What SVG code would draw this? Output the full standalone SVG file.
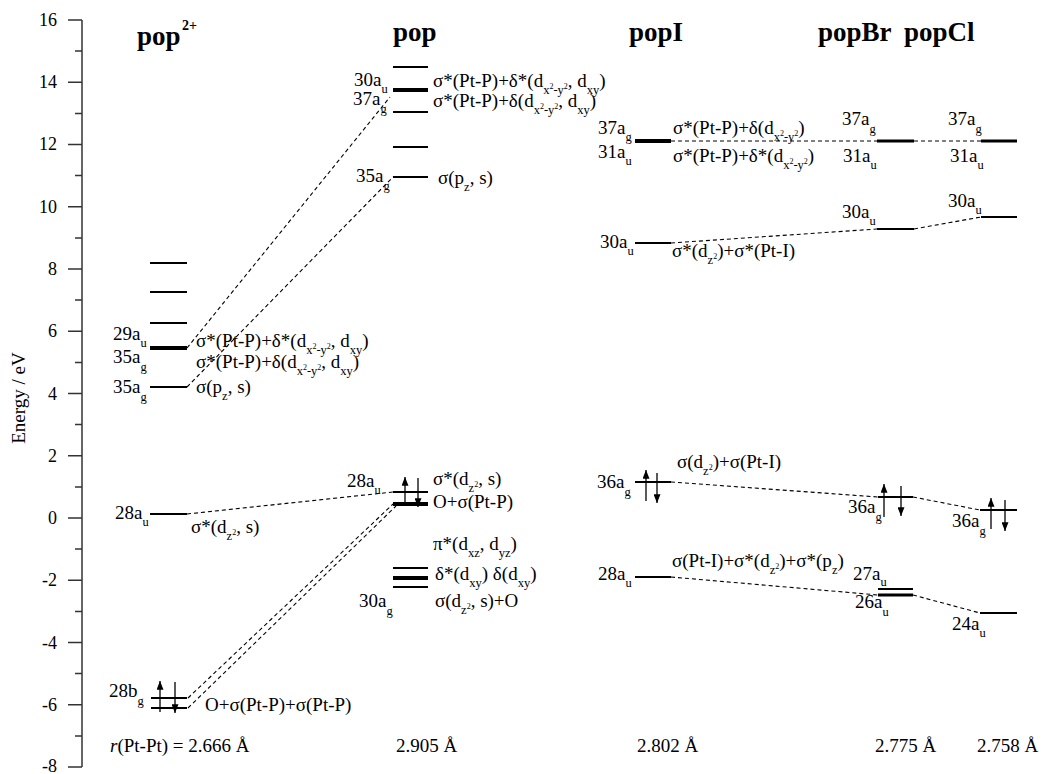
<svg xmlns="http://www.w3.org/2000/svg" width="1043" height="774" viewBox="0 0 1043 774" font-family="'Liberation Serif', 'Times New Roman', serif">
  <style>
    text { font-family: "Liberation Serif", "Times New Roman", serif; font-size: 19px; fill: #000; }
    .s { font-size: 12.5px; }
    .ss { font-size: 8px; }
    .hd { font-size: 27px; font-weight: bold; }
    .sup { font-size: 14px; font-weight: bold; }
    .tick { font-size: 18px; text-anchor: end; }
    .lv { stroke: #000; stroke-width: 2; }
    .lv3 { stroke: #000; stroke-width: 3; }
    .lvk { stroke: #000; stroke-width: 4; }
    .ax { stroke: #333; stroke-width: 1.5; fill: none; }
    .dash { stroke: #000; stroke-width: 1.1; stroke-dasharray: 4 3; fill: none; }
    .el { stroke: #000; stroke-width: 1.3; marker-end: url(#ah); }
  </style>
  <defs>
    <marker id="ah" viewBox="0 0 10 8" refX="10" refY="4" markerWidth="10" markerHeight="7" markerUnits="userSpaceOnUse" orient="auto">
      <path d="M0,0 L10,4 L0,8 z" fill="#000"/>
    </marker>
  </defs>
  <rect width="1043" height="774" fill="#fff"/>

  <!-- energy axis -->
  <g id="axis">
    <path class="ax" d="M82,20 V767"/>
    <path class="ax" d="M68,20H82 M75,51.1H82 M68,82.3H82 M75,113.4H82 M68,144.5H82 M75,175.6H82 M68,206.8H82 M75,237.9H82 M68,269H82 M75,300.1H82 M68,331.3H82 M75,362.4H82 M68,393.5H82 M75,424.6H82 M68,455.8H82 M75,486.9H82 M68,518H82 M75,549.1H82 M68,580.3H82 M75,611.4H82 M68,642.5H82 M75,673.6H82 M68,704.8H82 M75,735.9H82 M68,767H82"/>
    <text class="tick" x="57" y="26">16</text>
    <text class="tick" x="57" y="88">14</text>
    <text class="tick" x="57" y="150">12</text>
    <text class="tick" x="57" y="213">10</text>
    <text class="tick" x="57" y="275">8</text>
    <text class="tick" x="57" y="337">6</text>
    <text class="tick" x="57" y="400">4</text>
    <text class="tick" x="57" y="462">2</text>
    <text class="tick" x="57" y="524">0</text>
    <text class="tick" x="57" y="586">-2</text>
    <text class="tick" x="57" y="649">-4</text>
    <text class="tick" x="57" y="711">-6</text>
    <text class="tick" x="57" y="772">-8</text>
    <text x="25" y="398" font-size="16.5" text-anchor="middle" transform="rotate(-90 25 398)">Energy / eV</text>
  </g>

  <!-- column headings -->
  <g id="headings">
    <text class="hd" x="137" y="45">pop</text>
    <text class="sup" x="182" y="30">2+</text>
    <text class="hd" x="393" y="41">pop</text>
    <text class="hd" x="629" y="41">popI</text>
    <text class="hd" x="818" y="41">popBr</text>
    <text class="hd" x="904" y="41">popCl</text>
  </g>

  <!-- correlation lines -->
  <g id="connectors">
    <path class="dash" d="M187,348 L390,97"/>
    <path class="dash" d="M187,387 L393,177"/>
    <path class="dash" d="M187,514 L393,492"/>
    <path class="dash" d="M188,698 L393,504"/>
    <path class="dash" d="M188,708 L396,506"/>
    <path class="dash" d="M671,141 L877,141 M914,141 L981,141"/>
    <path class="dash" d="M671,243 L877,229 M914,229 L981,217"/>
    <path class="dash" d="M671,482 L878,497 M913,497 L980,510"/>
    <path class="dash" d="M671,577 L878,595 M913,595 L980,613"/>
  </g>

  <!-- pop2+ levels -->
  <g id="pop2-virtual">
    <line class="lv" x1="150" y1="263" x2="187" y2="263"/>
    <line class="lv" x1="150" y1="292" x2="187" y2="292"/>
    <line class="lv" x1="150" y1="323" x2="187" y2="323"/>
  </g>
  <g id="pop2-29au">
    <line class="lvk" x1="150" y1="348" x2="187" y2="348"/>
    <text x="113" y="340">29a<tspan class="s" dy="7">u</tspan></text>
    <text x="196" y="347">σ*(Pt-P)+δ*(d<tspan class="s" dy="7">x</tspan><tspan class="ss" dy="-5">2</tspan><tspan class="s" dy="5">-y</tspan><tspan class="ss" dy="-5">2</tspan><tspan dy="-2">, d</tspan><tspan class="s" dy="7">xy</tspan><tspan dy="-7">)</tspan></text>
  </g>
  <g id="pop2-35ag-b">
    <text x="113" y="363">35a<tspan class="s" dy="8">g</tspan></text>
    <text x="196" y="368">σ*(Pt-P)+δ(d<tspan class="s" dy="7">x</tspan><tspan class="ss" dy="-5">2</tspan><tspan class="s" dy="5">-y</tspan><tspan class="ss" dy="-5">2</tspan><tspan dy="-2">, d</tspan><tspan class="s" dy="7">xy</tspan><tspan dy="-7">)</tspan></text>
  </g>
  <g id="pop2-35ag">
    <line class="lv" x1="150" y1="387" x2="187" y2="387"/>
    <text x="113" y="393">35a<tspan class="s" dy="8">g</tspan></text>
    <text x="196" y="393">σ(p<tspan class="s" dy="7">z</tspan><tspan dy="-7">, s)</tspan></text>
  </g>
  <g id="pop2-28au">
    <line class="lv" x1="150" y1="514" x2="187" y2="514"/>
    <text x="115" y="519">28a<tspan class="s" dy="7">u</tspan></text>
    <text x="191" y="533">σ*(d<tspan class="s" dy="7">z</tspan><tspan class="ss" dy="-5">2</tspan><tspan dy="-2">, s)</tspan></text>
  </g>
  <g id="pop2-28bg">
    <line class="lv" x1="151" y1="698" x2="187" y2="698"/>
    <line class="lv" x1="151" y1="708" x2="187" y2="708"/>
    <line class="el" x1="160" y1="712" x2="160" y2="681"/>
    <line class="el" x1="175" y1="682" x2="175" y2="713"/>
    <text x="109" y="697">28b<tspan class="s" dy="8">g</tspan></text>
    <text x="205" y="711">O+σ(Pt-P)+σ(Pt-P)</text>
  </g>

  <!-- pop levels -->
  <g id="pop-upper">
    <line class="lv" x1="393" y1="67" x2="428" y2="67"/>
    <line class="lv" x1="393" y1="147" x2="428" y2="147"/>
  </g>
  <g id="pop-30au">
    <line class="lvk" x1="393" y1="90" x2="428" y2="90"/>
    <text x="354" y="86">30a<tspan class="s" dy="7">u</tspan></text>
    <text x="433" y="87">σ*(Pt-P)+δ*(d<tspan class="s" dy="7">x</tspan><tspan class="ss" dy="-5">2</tspan><tspan class="s" dy="5">-y</tspan><tspan class="ss" dy="-5">2</tspan><tspan dy="-2">, d</tspan><tspan class="s" dy="7">xy</tspan><tspan dy="-7">)</tspan></text>
  </g>
  <g id="pop-37ag">
    <line class="lv" x1="393" y1="112" x2="428" y2="112"/>
    <text x="353" y="105">37a<tspan class="s" dy="8">g</tspan></text>
    <text x="433" y="107">σ*(Pt-P)+δ(d<tspan class="s" dy="7">x</tspan><tspan class="ss" dy="-5">2</tspan><tspan class="s" dy="5">-y</tspan><tspan class="ss" dy="-5">2</tspan><tspan dy="-2">, d</tspan><tspan class="s" dy="7">xy</tspan><tspan dy="-7">)</tspan></text>
  </g>
  <g id="pop-35ag">
    <line class="lv" x1="393" y1="177" x2="428" y2="177"/>
    <text x="356" y="182">35a<tspan class="s" dy="8">g</tspan></text>
    <text x="438" y="184">σ(p<tspan class="s" dy="7">z</tspan><tspan dy="-7">, s)</tspan></text>
  </g>
  <g id="pop-28au">
    <line class="lv" x1="393" y1="492" x2="428" y2="492"/>
    <line class="lvk" x1="393" y1="504" x2="428" y2="504"/>
    <line class="el" x1="405" y1="506" x2="405" y2="477"/>
    <line class="el" x1="418" y1="478" x2="418" y2="507"/>
    <text x="347" y="487">28a<tspan class="s" dy="7">u</tspan></text>
    <text x="433" y="485">σ*(d<tspan class="s" dy="7">z</tspan><tspan class="ss" dy="-5">2</tspan><tspan dy="-2">, s)</tspan></text>
    <text x="433" y="508">O+σ(Pt-P)</text>
  </g>
  <g id="pop-30ag">
    <line class="lv" x1="393" y1="568" x2="428" y2="568"/>
    <line class="lvk" x1="393" y1="578" x2="428" y2="578"/>
    <line class="lv" x1="393" y1="587" x2="428" y2="587"/>
    <text x="433" y="550">π*(d<tspan class="s" dy="7">xz</tspan><tspan dy="-7">, d</tspan><tspan class="s" dy="7">yz</tspan><tspan dy="-7">)</tspan></text>
    <text x="435" y="580">δ*(d<tspan class="s" dy="7">xy</tspan><tspan dy="-7">) δ(d</tspan><tspan class="s" dy="7">xy</tspan><tspan dy="-7">)</tspan></text>
    <text x="435" y="607">σ(d<tspan class="s" dy="7">z</tspan><tspan class="ss" dy="-5">2</tspan><tspan dy="-2">, s)+O</tspan></text>
    <text x="359" y="607">30a<tspan class="s" dy="8">g</tspan></text>
  </g>

  <!-- popI levels -->
  <g id="popI-37ag">
    <line class="lvk" x1="635" y1="141" x2="671" y2="141"/>
    <text x="598" y="134">37a<tspan class="s" dy="7">g</tspan></text>
    <text x="598" y="158">31a<tspan class="s" dy="7">u</tspan></text>
    <text x="673" y="134">σ*(Pt-P)+δ(d<tspan class="s" dy="7">x</tspan><tspan class="ss" dy="-5">2</tspan><tspan class="s" dy="5">-y</tspan><tspan class="ss" dy="-5">2</tspan><tspan dy="-2">)</tspan></text>
    <text x="673" y="162">σ*(Pt-P)+δ*(d<tspan class="s" dy="7">x</tspan><tspan class="ss" dy="-5">2</tspan><tspan class="s" dy="5">-y</tspan><tspan class="ss" dy="-5">2</tspan><tspan dy="-2">)</tspan></text>
  </g>
  <g id="popI-30au">
    <line class="lv" x1="635" y1="243" x2="671" y2="243"/>
    <text x="600" y="248">30a<tspan class="s" dy="7">u</tspan></text>
    <text x="672" y="257">σ*(d<tspan class="s" dy="7">z</tspan><tspan class="ss" dy="-5">2</tspan><tspan dy="-2">)+σ*(Pt-I)</tspan></text>
  </g>
  <g id="popI-36ag">
    <line class="lv" x1="635" y1="482" x2="671" y2="482"/>
    <line class="el" x1="646" y1="501" x2="646" y2="470"/>
    <line class="el" x1="657" y1="473" x2="657" y2="503"/>
    <text x="597" y="488">36a<tspan class="s" dy="8">g</tspan></text>
    <text x="677" y="468">σ(d<tspan class="s" dy="7">z</tspan><tspan class="ss" dy="-5">2</tspan><tspan dy="-2">)+σ(Pt-I)</tspan></text>
  </g>
  <g id="popI-28au">
    <line class="lv" x1="635" y1="577" x2="671" y2="577"/>
    <text x="598" y="580">28a<tspan class="s" dy="7">u</tspan></text>
    <text x="672" y="567">σ(Pt-I)+σ*(d<tspan class="s" dy="7">z</tspan><tspan class="ss" dy="-5">2</tspan><tspan dy="-2">)+σ*(p</tspan><tspan class="s" dy="7">z</tspan><tspan dy="-7">)</tspan></text>
  </g>

  <!-- popBr levels -->
  <g id="popBr-37ag">
    <line class="lv3" x1="877" y1="141" x2="914" y2="141"/>
    <text x="842" y="125">37a<tspan class="s" dy="8">g</tspan></text>
    <text x="843" y="162">31a<tspan class="s" dy="7">u</tspan></text>
  </g>
  <g id="popBr-30au">
    <line class="lv" x1="877" y1="229" x2="914" y2="229"/>
    <text x="842" y="218">30a<tspan class="s" dy="7">u</tspan></text>
  </g>
  <g id="popBr-36ag">
    <line class="lv" x1="878" y1="497" x2="913" y2="497"/>
    <line class="el" x1="884" y1="517" x2="884" y2="484"/>
    <line class="el" x1="901" y1="486" x2="901" y2="516"/>
    <text x="848" y="513">36a<tspan class="s" dy="8">g</tspan></text>
  </g>
  <g id="popBr-26au">
    <line class="lv" x1="878" y1="589" x2="913" y2="589"/>
    <line class="lv3" x1="878" y1="595" x2="913" y2="595"/>
    <text x="853" y="580">27a<tspan class="s" dy="6">u</tspan></text>
    <text x="855" y="608">26a<tspan class="s" dy="8">u</tspan></text>
  </g>

  <!-- popCl levels -->
  <g id="popCl-37ag">
    <line class="lv3" x1="981" y1="141" x2="1017" y2="141"/>
    <text x="948" y="125">37a<tspan class="s" dy="8">g</tspan></text>
    <text x="950" y="162">31a<tspan class="s" dy="7">u</tspan></text>
  </g>
  <g id="popCl-30au">
    <line class="lv" x1="981" y1="217" x2="1017" y2="217"/>
    <text x="948" y="207">30a<tspan class="s" dy="7">u</tspan></text>
  </g>
  <g id="popCl-36ag">
    <line class="lv" x1="980" y1="510" x2="1017" y2="510"/>
    <line class="el" x1="991" y1="529" x2="991" y2="498"/>
    <line class="el" x1="1005" y1="500" x2="1005" y2="531"/>
    <text x="952" y="527">36a<tspan class="s" dy="8">g</tspan></text>
  </g>
  <g id="popCl-24au">
    <line class="lv" x1="980" y1="613" x2="1017" y2="613"/>
    <text x="952" y="630">24a<tspan class="s" dy="7">u</tspan></text>
  </g>

  <!-- Pt-Pt distances -->
  <g id="distances">
    <text x="110" y="752"><tspan font-style="italic">r</tspan>(Pt-Pt) = 2.666 Å</text>
    <text x="396" y="752">2.905 Å</text>
    <text x="637" y="752">2.802 Å</text>
    <text x="875" y="752">2.775 Å</text>
    <text x="977" y="752">2.758 Å</text>
  </g>
</svg>
